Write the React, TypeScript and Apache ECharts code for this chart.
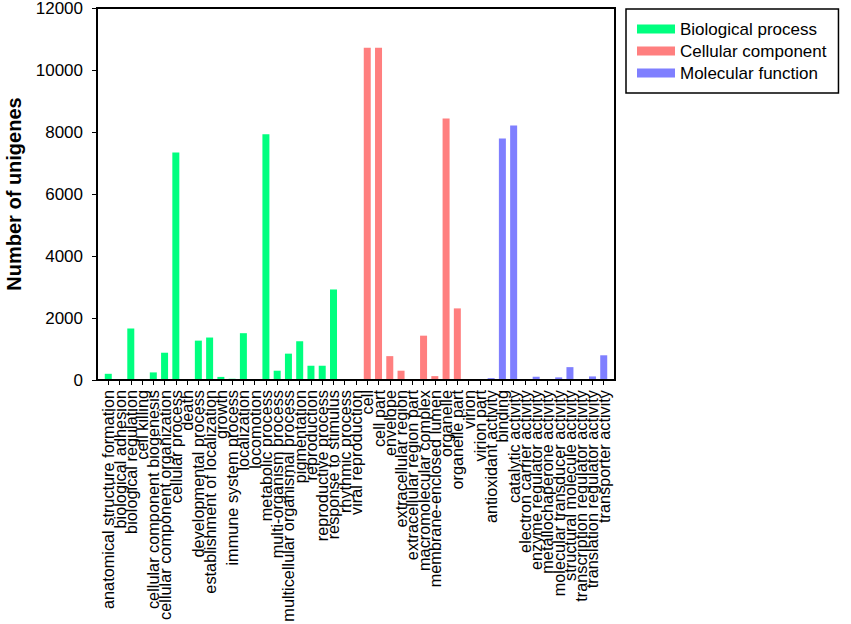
import React, { useEffect, useRef } from "react";
import * as echarts from "echarts";

const bioCategories = [
  "anatomical structure formation", "biological adhesion", "biological regulation", "cell killing",
  "cellular component biogenesis", "cellular component organization", "cellular process", "death",
  "developmental process", "establishment of localization", "growth", "immune system process",
  "localization", "locomotion", "metabolic process", "multi-organism process",
  "multicellular organismal process", "pigmentation", "reproduction", "reproductive process",
  "response to stimulus", "rhythmic process", "viral reproduction",
];
const bioValues = [
  200, 6, 1660, 5, 245, 880, 7340, 30, 1270, 1370, 100, 40, 1510, 6, 7930, 300, 850, 1250, 460, 460,
  2920, 15, 6,
];

const cellCategories = [
  "cell", "cell part", "envelope", "extracellular region", "extracellular region part",
  "macromolecular complex", "membrane-enclosed lumen", "organelle", "organelle part", "virion",
  "virion part",
];
const cellValues = [10720, 10720, 770, 300, 6, 1430, 125, 8435, 2310, 4, 4];

const molCategories = [
  "antioxidant activity", "binding", "catalytic activity", "electron carrier activity",
  "enzyme regulator activity", "metallochaperone activity", "molecular transducer activity",
  "structural molecule activity", "transcription regulator activity", "translation regulator activity",
  "transporter activity",
];
const molValues = [60, 7790, 8210, 5, 105, 5, 85, 415, 6, 115, 797];

const yTicks = [0, 2000, 4000, 6000, 8000, 10000, 12000];

const seriesNames = ["Biological process", "Cellular component", "Molecular function"];
const seriesColors = ["#00FF7F", "#FF7F7F", "#7F7FFF"];

const FONT = "Liberation Sans, Arial, sans-serif";

// frame (plot box) and inner data area
const FRAME = { x: 97, y: 8, w: 518, h: 372 };
const PAD = 5.64;

export default function App() {
  const ref = useRef<HTMLDivElement>(null);
  useEffect(() => {
    if (!ref.current) return;
    const chart = echarts.init(ref.current, null, { renderer: "svg" });
    const allCategories = [...bioCategories, ...cellCategories, ...molCategories];
    const groups = [bioValues, cellValues, molValues];
    const total = allCategories.length;
    let offset = 0;
    const series = groups.map((vals, gi) => {
      const start = offset;
      offset += vals.length;
      const data: (number | null)[] = new Array(total).fill(null);
      vals.forEach((v, i) => {
        data[start + i] = v;
      });
      return {
        name: seriesNames[gi],
        type: "bar",
        barWidth: 7,
        barGap: "-100%",
        itemStyle: { color: seriesColors[gi] },
        data,
      };
    });
    chart.setOption({
      animation: false,
      textStyle: { fontFamily: FONT },
      grid: {
        left: FRAME.x + PAD,
        right: 851 - (FRAME.x + FRAME.w - PAD),
        top: FRAME.y,
        bottom: 624 - (FRAME.y + FRAME.h),
        containLabel: false,
        outerBoundsMode: "none",
      },
      graphic: [
        {
          type: "rect",
          shape: { x: FRAME.x, y: FRAME.y, width: FRAME.w, height: FRAME.h },
          style: { fill: "none", stroke: "#000", lineWidth: 2 },
          z: 10,
          silent: true,
        },
      ],
      legend: {
        orient: "vertical",
        left: 626,
        top: 9,
        padding: [10, 12, 10, 11],
        backgroundColor: "#fff",
        borderColor: "#000",
        borderWidth: 1.5,
        borderRadius: 0,
        itemWidth: 38,
        itemHeight: 9,
        itemGap: 2,
        icon: "rect",
        data: seriesNames,
        textStyle: { fontSize: 17, color: "#000", lineHeight: 20, fontFamily: FONT },
      },
      xAxis: {
        type: "category",
        data: allCategories,
        boundaryGap: true,
        splitLine: { show: false },
        axisLine: { show: false, onZero: false },
        axisTick: { show: true, length: 5, alignWithLabel: true, interval: 0, lineStyle: { color: "#000", width: 1 } },
        axisLabel: {
          interval: 0,
          rotate: 90,
          margin: 10,
          fontSize: 16.3,
          color: "#000",
          fontFamily: FONT,
        },
      },
      yAxis: {
        type: "value",
        min: 0,
        max: 12000,
        interval: 2000,
        offset: PAD,
        name: "Number of unigenes",
        nameLocation: "middle",
        nameGap: 73,
        nameTextStyle: { fontSize: 20, fontWeight: "bold", color: "#000", fontFamily: FONT },
        splitLine: { show: false },
        axisLine: { show: false, onZero: false },
        axisTick: { show: true, length: 5, lineStyle: { color: "#000", width: 1 } },
        axisLabel: {
          fontSize: 17,
          color: "#000",
          margin: 14,
          fontFamily: FONT,
          formatter: (v: number) => (yTicks.includes(v) ? String(v) : ""),
        },
      },
      series,
    });
    return () => chart.dispose();
  }, []);
  return <div ref={ref} style={{ position: "absolute", left: 0, top: 0, width: 851, height: 624 }} />;
}
